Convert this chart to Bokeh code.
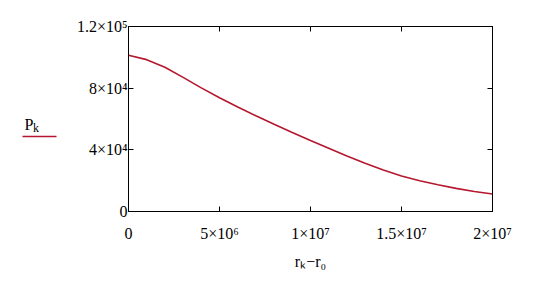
from bokeh.plotting import figure
from bokeh.layouts import row
from bokeh.models import Range1d, FixedTicker, LinearAxis, ColumnDataSource
from bokeh.core.properties import value
from bokeh.embed import file_html
from bokeh.resources import INLINE

# ---- data ----
r_diff = [0, 1e6, 2e6, 3e6, 4e6, 5e6, 6e6, 7e6, 8e6, 9e6, 10e6,
          11e6, 12e6, 13e6, 14e6, 15e6, 16e6, 17e6, 18e6, 19e6, 20e6]
P_k = [101300, 98500, 93600, 87000, 80200, 73800, 67800, 62100, 56600, 51250, 46050,
       41050, 36050, 31250, 26850, 23050, 19950, 17300, 15000, 13000, 11400]

x_ticks = [0, 5e6, 1e7, 1.5e7, 2e7]
x_tick_labels = ["0", "5×10⁶", "1×10⁷", "1.5×10⁷", "2×10⁷"]
y_ticks = [0, 4e4, 8e4, 1.2e5]
y_tick_labels = ["0", "4×10⁴", "8×10⁴", "1.2×10⁵"]
x_title = "rₖ−r₀"
legend_main, legend_sub = "P", "k"

FONT = "Liberation Serif"
RED = "#B5172F"
LEG_W = 64

# ---- main chart ----
p = figure(width=540 - LEG_W, height=290, output_backend="svg", toolbar_location=None,
           x_range=Range1d(0, 2e7), y_range=Range1d(0, 1.2e5),
           min_border_left=128 - LEG_W, min_border_right=48, min_border_top=26,
           min_border_bottom=79, background_fill_color="white",
           border_fill_color="white", outline_line_color="black",
           outline_line_width=1)
p.grid.visible = False


def style_axis(ax, ticks, labels, show):
    ax.ticker = FixedTicker(ticks=ticks)
    ax.major_label_overrides = {t: (l if show else "") for t, l in zip(ticks, labels)}
    ax.major_tick_in = 5
    ax.major_tick_out = 0
    ax.minor_tick_line_color = None
    ax.axis_line_color = "black"
    ax.major_tick_line_color = "black"
    ax.major_label_text_font = FONT
    ax.major_label_text_font_size = "16px"
    ax.major_label_text_color = "black"


style_axis(p.xaxis[0], x_ticks, x_tick_labels, True)
style_axis(p.yaxis[0], y_ticks, y_tick_labels, True)
p.xaxis[0].major_label_standoff = 13
p.yaxis[0].major_label_standoff = 1
p.xaxis[0].axis_label = x_title
p.xaxis[0].axis_label_text_font = FONT
p.xaxis[0].axis_label_text_font_style = "normal"
p.xaxis[0].axis_label_text_font_size = "16px"
p.xaxis[0].axis_label_text_color = "black"
p.xaxis[0].axis_label_standoff = 8

top = LinearAxis(major_label_standoff=0)
right = LinearAxis(major_label_standoff=0)
style_axis(top, x_ticks, x_tick_labels, False)
style_axis(right, y_ticks, y_tick_labels, False)
top.major_label_text_font_size = "1px"
right.major_label_text_font_size = "1px"
p.add_layout(top, "above")
p.add_layout(right, "right")

src = ColumnDataSource(dict(x=r_diff, y=P_k))
p.line("x", "y", source=src, line_color=RED, line_width=1.6)

# ---- legend key (P_k over a red line), in its own small panel ----
# the row aligns this panel's frame with the chart's frame (pixel rows 26..211),
# so its y range is given in page pixels, top-down
lg = figure(width=LEG_W, height=290, output_backend="svg", toolbar_location=None,
            x_range=Range1d(0, LEG_W), y_range=Range1d(211, 26), title=None,
            x_axis_location=None, y_axis_location=None, min_border=0,
            outline_line_color=None, background_fill_color="white",
            border_fill_color="white")
lg.grid.visible = False
lg.text(x=[24], y=[124], text=[legend_main], text_baseline="alphabetic",
        text_align="left", text_font=value(FONT), text_font_size=value("16px"),
        text_color="black")
lg.text(x=[32.5], y=[127.5], text=[legend_sub], text_baseline="alphabetic",
        text_align="left", text_font=value(FONT), text_font_size=value("12px"),
        text_color="black")
lg.line(x=[22, 56], y=[136, 136], line_color=RED, line_width=1.6)

layout = row(lg, p, spacing=0)
open("out.html", "w").write(file_html(layout, INLINE))
